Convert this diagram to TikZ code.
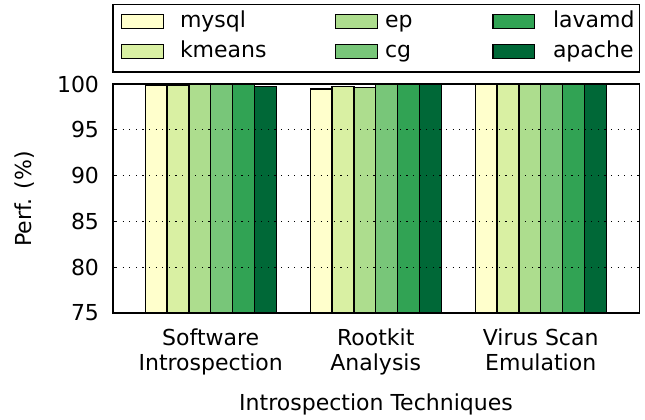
\documentclass[tikz,border=0pt]{standalone}
\usepackage{fontspec}
\setmainfont{DejaVu Sans}
\definecolor{cA}{HTML}{FFFFCC}
\definecolor{cB}{HTML}{D9F0A3}
\definecolor{cC}{HTML}{ADDD8E}
\definecolor{cD}{HTML}{78C679}
\definecolor{cE}{HTML}{31A354}
\definecolor{cF}{HTML}{006837}
\begin{document}
\begin{tikzpicture}[x=1bp,y=-1bp,
  every node/.style={inner sep=0pt,outer sep=0pt,font=\fontsize{22bp}{26bp}\selectfont},
  barbox/.style={draw=black,line width=1.3bp},
  frame/.style={draw=black,line width=1.3bp},
  grid/.style={draw=black,line width=1.2bp,dash pattern=on 1.2bp off 5.4bp},
  ticklab/.style={anchor=east},
  legpatch/.style={draw=black,line width=1.3bp}]
\useasboundingbox (0,0) rectangle (645,419);
% bars
\foreach \cx/\i/\v/\col in {
  210.7/0/99.8/cA, 210.7/1/99.9/cB, 210.7/2/100/cC, 210.7/3/100/cD, 210.7/4/100/cE, 210.7/5/99.75/cF,
  375.7/0/99.45/cA, 375.7/1/99.75/cB, 375.7/2/99.65/cC, 375.7/3/100/cD, 375.7/4/100/cE, 375.7/5/100/cF,
  540.7/0/100/cA, 540.7/1/100/cB, 540.7/2/100/cC, 540.7/3/100/cD, 540.7/4/100/cE, 540.7/5/100/cF}{
  \pgfmathsetmacro\xl{\cx+(\i-3)*21.85}
  \pgfmathsetmacro\xr{\xl+21.85}
  \pgfmathsetmacro\yt{313-(\v-75)*9.16}
  \fill[\col] (\xl,313) rectangle (\xr,\yt);
  \draw[barbox] (\xl,313) rectangle (\xr,\yt);
}
% grid
\foreach \v in {80,85,90,95}{
  \pgfmathsetmacro\yy{313-(\v-75)*9.16}
  \draw[grid] (116,\yy) -- (639.3,\yy);
  \draw[line width=1bp] (113,\yy) -- (117,\yy);
}
% frame
\draw[frame] (113,84) rectangle (639.3,313);
% y tick labels
\foreach \v in {75,80,85,90,95,100}{
  \pgfmathsetmacro\yy{313-(\v-75)*9.16}
  \node[ticklab] (yl\v) at (99,\yy) {\v};
}
\node[rotate=90] (ylab) at (25,199) {Perf. (\%)};
% x tick labels
\node[anchor=base] (x1a) at (210.7,345) {Software};
\node[anchor=base] (x1b) at (210.7,370) {Introspection};
\node[anchor=base] (x2a) at (375.7,345) {Rootkit};
\node[anchor=base] (x2b) at (375.7,370) {Analysis};
\node[anchor=base] (x3a) at (540.7,345) {Virus Scan};
\node[anchor=base] (x3b) at (540.7,370) {Emulation};
\node[anchor=base] (xlab) at (376,410) {Introspection Techniques};
% legend
\draw[frame] (113,4.3) rectangle (639.3,72);
\foreach \px/\tx/\ry/\col/\lab/\nm in {
  121.7/180/21.5/cA/mysql/la, 121.7/180/51.3/cB/kmeans/lb,
  335.5/385/21.5/cC/ep/lc, 335.5/385/51.3/cD/cg/ld,
  493/553/21.5/cE/lavamd/le, 493/553/51.3/cF/apache/lf}{
  \pgfmathsetmacro\pr{\px+41.7}
  \pgfmathsetmacro\yt{\ry-7}
  \pgfmathsetmacro\yb{\ry+7}
  \pgfmathsetmacro\bl{\ry+5.8}
  \filldraw[legpatch,fill=\col] (\px,\yt) rectangle (\pr,\yb);
  \node[anchor=base west] (\nm) at (\tx,\bl) {\lab};
}
\end{tikzpicture}
\end{document}
